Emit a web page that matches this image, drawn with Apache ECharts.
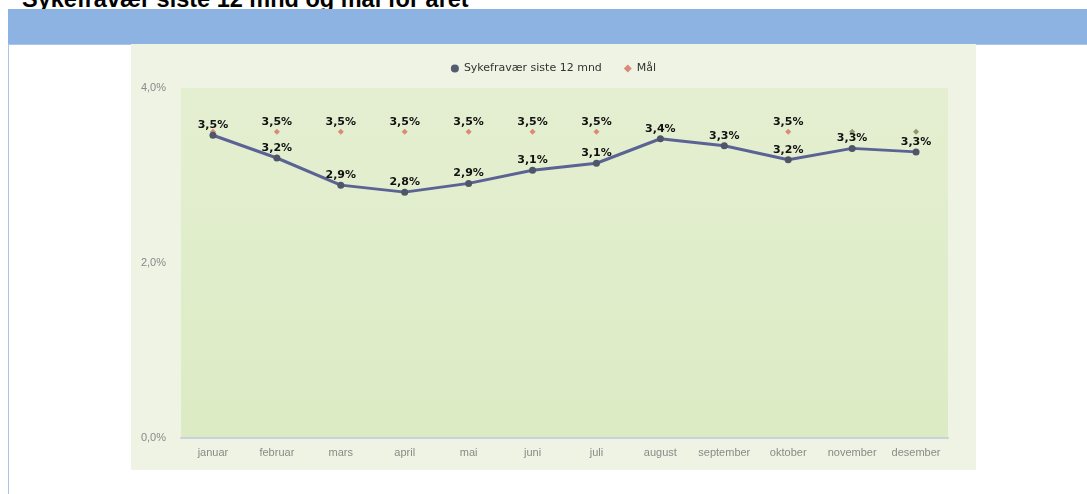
<!DOCTYPE html>
<html>
<head>
<meta charset="utf-8">
<script src="https://cdn.jsdelivr.net/npm/echarts@6/dist/echarts.min.js"></script>
<style>
  html, body { margin: 0; padding: 0; background: #ffffff; overflow: hidden; }
  #title {
    position: absolute; left: 22px; top: -14px; line-height: 1;
    font: bold 23.5px "Liberation Sans", Arial, sans-serif; color: #000;
    white-space: nowrap;
  }
  #bar {
    position: absolute; left: 8px; top: 9px; width: 1079px; height: 35px;
    background: #8db3e2; border-bottom: 1px solid #a9c5ea;
  }
  #border {
    position: absolute; left: 8px; top: 44px; width: 1px; height: 450px;
    background: #a9c5ea;
  }
  #chart {
    position: absolute; left: 131px; top: 44px; width: 845px; height: 426px;
    background: #eef3e3;
  }
</style>
</head>
<body>
<div id="title">Sykefravær siste 12 mnd og mål for året</div>
<div id="bar"></div>
<div id="border"></div>
<div id="chart"></div>
<script>
// Måneder
const months = ['januar', 'februar', 'mars', 'april', 'mai', 'juni', 'juli', 'august', 'september', 'oktober', 'november', 'desember'];
// Sykefravær siste 12 mnd (%)
const sykefravaer = [3.46, 3.2, 2.89, 2.81, 2.91, 3.06, 3.14, 3.42, 3.34, 3.18, 3.31, 3.27];
// Mål (%), ikke satt for august og september
const maal = [3.5, 3.5, 3.5, 3.5, 3.5, 3.5, 3.5, null, null, 3.5, 3.5, 3.5];
// Verdiakse
const yTicks = [0, 2, 4];

const fmt = (v) => v.toFixed(1).replace('.', ',') + '%';

const chart = echarts.init(document.getElementById('chart'));

// Etiketter for mål som ikke vises (overlapper)
const maalHideLabel = [0, 10, 11];
const maalData = maal.map((v, i) => ({
  value: v,
  label: { show: !maalHideLabel.includes(i) },
  itemStyle: { color: i >= 10 ? '#8f9670' : '#d98a78' },
}));

const labelStyle = {
  show: true,
  position: 'top',
  distance: 1,
  color: '#111',
  fontFamily: 'DejaVu Sans',
  fontWeight: 'bold',
  fontSize: 11,
  formatter: (p) => fmt(p.value),
};

chart.setOption({
  animation: false,
  legend: {
    top: 14,
    left: 'center',
    itemWidth: 8,
    itemHeight: 8,
    itemGap: 22,
    textStyle: { color: '#333', fontFamily: 'DejaVu Sans', fontSize: 11 },
    data: [
      { name: 'Sykefravær siste 12 mnd', icon: 'circle', itemStyle: { color: '#555b70' } },
      { name: 'Mål', icon: 'diamond', itemStyle: { color: '#d98a78' } },
    ],
  },
  grid: {
    left: 50,
    right: 28,
    top: 44,
    bottom: 32,
    show: true,
    borderWidth: 0,
    backgroundColor: new echarts.graphic.LinearGradient(0, 0, 0, 1, [
      { offset: 0, color: '#e4efd1' },
      { offset: 1, color: '#dcebc4' },
    ]),
  },
  xAxis: {
    type: 'category',
    data: months,
    boundaryGap: true,
    axisTick: { show: false },
    axisLine: { lineStyle: { color: '#c9d2dc', width: 2 } },
    axisLabel: { interval: 0, color: '#8a8a8a', fontFamily: 'Liberation Sans', fontSize: 11, margin: 9 },
  },
  yAxis: {
    type: 'value',
    min: yTicks[0],
    max: yTicks[yTicks.length - 1],
    interval: 2,
    axisLine: { show: false },
    axisTick: { show: false },
    splitLine: { show: false },
    axisLabel: {
      color: '#8a8a8a', fontFamily: 'Liberation Sans', fontSize: 11, margin: 15,
      formatter: (v) => fmt(v),
    },
  },
  series: [
    {
      name: 'Mål',
      type: 'line',
      data: maalData,
      lineStyle: { width: 0, opacity: 0 },
      symbol: 'diamond',
      symbolSize: 6,
      itemStyle: { color: '#d98a78' },
      label: { ...labelStyle, distance: 1 },
      z: 2,
    },
    {
      name: 'Sykefravær siste 12 mnd',
      type: 'line',
      data: sykefravaer,
      symbol: 'circle',
      symbolSize: 7,
      showAllSymbol: true,
      lineStyle: { color: '#5b6394', width: 3 },
      itemStyle: { color: '#4f5668' },
      label: labelStyle,
      labelLayout: { hideOverlap: false },
      z: 3,
    },
  ],
});
</script>
</body>
</html>
